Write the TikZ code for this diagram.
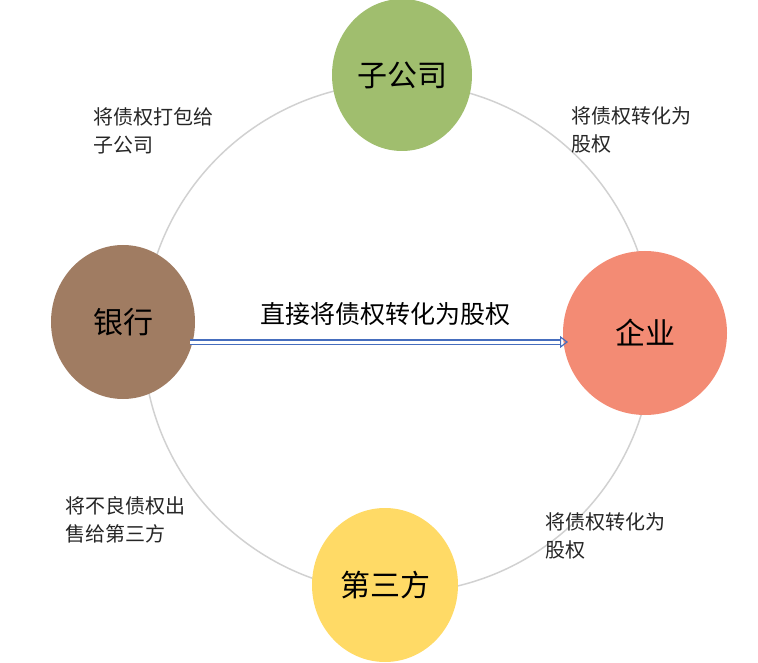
\documentclass[tikz,border=0pt]{standalone}
\usepackage{fontspec}
\newfontfamily\cjk{Noto Sans CJK SC}
\usetikzlibrary{arrows.meta,shapes.geometric}
\begin{document}
\begin{tikzpicture}[x=1pt,y=-1pt,
  ball/.style={ellipse,inner sep=0pt,font=\cjk\fontsize{30}{32}\selectfont},
  lab/.style={align=left,anchor=north west,inner sep=0pt,font=\cjk\fontsize{20}{28}\selectfont,text=black!85}]
\useasboundingbox (0,0) rectangle (758,663);
\draw[black!18,line width=1.5pt] (398,338) circle[radius=255];
\node[ball,fill=green!45!olive!60!white,fill={rgb,255:red,160;green,190;blue,110},minimum width=140,minimum height=152] (sub) at (402,75) {子公司};
\node[ball,fill={rgb,255:red,160;green,124;blue,98},minimum width=144,minimum height=154] (bank) at (123,322) {银行};
\node[ball,fill={rgb,255:red,243;green,139;blue,116},minimum width=164,minimum height=164] (firm) at (645,333) {企业};
\node[ball,fill={rgb,255:red,255;green,218;blue,102},minimum width=146,minimum height=154] (third) at (385,585) {第三方};
\coordinate (a1) at (190,342);
\coordinate (a2) at (568,342);
\draw[draw={rgb,255:red,70;green,110;blue,190},double=white,double distance=3pt,line width=1.2pt,-{Triangle[open,length=8pt,width=12pt]}] (a1) -- (a2);
\node[font=\cjk\fontsize{25}{28}\selectfont] (t) at (385,314) {直接将债权转化为股权};
\node[lab] (l1) at (93,107) {将债权打包给\\子公司};
\node[lab] (l2) at (571,107) {将债权转化为\\股权};
\node[lab] (l3) at (65,496) {将不良债权出\\售给第三方};
\node[lab] (l4) at (545,512) {将债权转化为\\股权};
\end{tikzpicture}
\end{document}
